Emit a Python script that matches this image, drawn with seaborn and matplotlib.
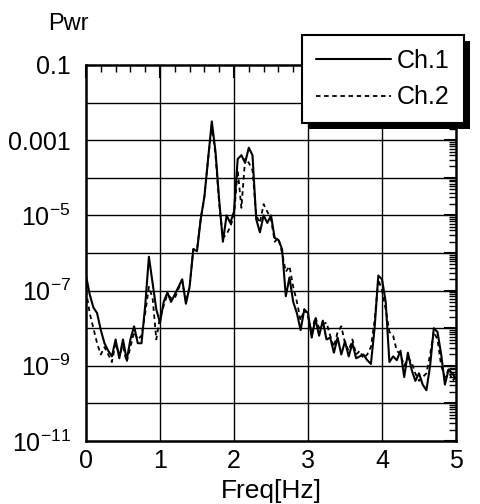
import numpy as np
import pandas as pd
import matplotlib
matplotlib.use("Agg")
import matplotlib.pyplot as plt
import matplotlib.ticker as mticker
from matplotlib.patches import Rectangle
from matplotlib.transforms import IdentityTransform
import seaborn as sns

# ---- data (log10 of power) ----
freq = [round(0.05 * i, 2) for i in range(101)]
ch1_log = [
    -6.6, -7.1, -7.45, -7.6, -8.05, -8.4, -8.6, -8.75, -8.3, -8.8,
    -8.3, -8.85, -8.3, -7.95, -8.4, -8.4, -7.4, -6.1, -6.8, -7.5,
    -7.85, -7.3, -7.05, -7.3, -7.1, -6.9, -6.7, -7.35, -6.9, -5.9,
    -5.95, -5.1, -4.5, -3.5, -2.5, -3.3, -4.6, -5.7, -5.0, -5.2,
    -4.9, -3.5, -3.4, -3.6, -3.2, -3.4, -5.1, -5.45, -5.0, -5.2,
    -5.0, -5.6, -5.65, -5.9, -7.15, -6.65, -7.3, -7.6, -8.05, -7.5,
    -7.6, -8.25, -7.75, -8.2, -7.8, -8.3, -8.25, -8.65, -8.25, -8.7,
    -8.35, -8.75, -8.4, -8.8, -8.75, -8.7, -8.85, -8.95, -8.0, -6.6,
    -6.7, -7.3, -8.9, -8.75, -8.85, -8.6, -9.3, -8.65, -9.1, -9.4,
    -9.2, -9.5, -9.65, -9.0, -8.0, -8.1, -8.7, -9.5, -9.1, -9.2,
    -9.35,
]
ch2_log = [
    -7.0, -7.6, -8.0, -8.4, -8.7, -8.5, -8.7, -8.9, -8.4, -8.7,
    -8.5, -8.9, -8.5, -8.1, -8.3, -8.2, -7.6, -6.9, -7.2, -8.3,
    -7.7, -7.4, -7.1, -7.2, -7.2, -6.95, -6.75, -7.3, -6.9, -5.9,
    -5.9, -5.1, -4.5, -3.5, -2.6, -3.4, -4.7, -5.6, -5.5, -5.3,
    -5.0, -3.8, -4.8, -3.5, -3.6, -3.8, -5.0, -5.2, -4.7, -4.9,
    -5.1, -5.7, -5.6, -6.0, -6.5, -6.35, -6.9, -7.3, -7.8, -7.5,
    -7.7, -8.1, -7.7, -8.0, -7.9, -7.85, -8.2, -8.5, -8.1, -7.95,
    -8.4, -8.6, -8.3, -8.7, -8.6, -8.8, -8.7, -8.5, -7.8, -6.7,
    -7.0, -7.5, -8.1, -8.2, -8.6, -8.7, -9.0, -8.8, -8.9, -9.2,
    -9.4, -9.3, -9.2, -8.7, -8.1, -8.3, -9.0, -9.3, -9.1, -9.4,
    -9.3,
]
series_names = ["Ch.1", "Ch.2"]
y_tick_vals = [1e-1, 1e-3, 1e-5, 1e-7, 1e-9, 1e-11]
y_tick_labels = ["0.1", "0.001", "$10^{-5}$", "$10^{-7}$", "$10^{-9}$", "$10^{-11}$"]
x_tick_vals = [0, 1, 2, 3, 4, 5]

df = pd.DataFrame({
    "freq": freq + freq,
    "pwr": list(10 ** np.array(ch1_log)) + list(10 ** np.array(ch2_log)),
    "ch": [series_names[0]] * len(freq) + [series_names[1]] * len(freq),
})

sns.set_style("white")
plt.rcParams["font.family"] = ["Liberation Sans", "DejaVu Sans"]
plt.rcParams["mathtext.default"] = "regular"
plt.rcParams["text.color"] = "black"
plt.rcParams["axes.labelcolor"] = "black"

fig = plt.figure(figsize=(4.81, 5.04), dpi=100)
ax = fig.add_axes([86 / 481, 1 - 441 / 504, 370 / 481, 376 / 504])

sns.lineplot(data=df[df.ch == "Ch.1"], x="freq", y="pwr", ax=ax, color="black",
             linewidth=1.5, label="Ch.1", legend=False)
sns.lineplot(data=df[df.ch == "Ch.2"], x="freq", y="pwr", ax=ax, color="black",
             linewidth=1.3, linestyle=(0, (2.5, 2)), label="Ch.2", legend=False)

ax.set_yscale("log")
ax.set_xlim(0, 5)
ax.set_ylim(1e-11, 1e-1)

# grid at every decade and every Hz
for e in range(-10, -1):
    ax.axhline(10.0 ** e, color="black", lw=1.0, zorder=0.5)
for xv in x_tick_vals[1:-1]:
    ax.axvline(xv, color="black", lw=1.0, zorder=0.5)


def fmt(v, p):
    for t, lab in zip(y_tick_vals, y_tick_labels):
        if abs(v - t) / t < 1e-6:
            return lab
    return ""


ax.yaxis.set_major_locator(mticker.FixedLocator([10.0 ** e for e in range(-11, 0)]))
ax.yaxis.set_major_formatter(mticker.FuncFormatter(fmt))
ax.yaxis.set_minor_locator(mticker.LogLocator(base=10, subs=np.arange(2, 10), numticks=30))
ax.yaxis.set_minor_formatter(mticker.NullFormatter())
ax.xaxis.set_major_locator(mticker.FixedLocator(x_tick_vals))
ax.xaxis.set_minor_locator(mticker.MultipleLocator(0.2))

ax.tick_params(which="both", direction="in", top=True, right=True, colors="black")
ax.tick_params(which="major", length=9, width=1.5, labelsize=18)
ax.tick_params(axis="y", which="major", pad=11)
ax.tick_params(axis="x", which="major", pad=6)
ax.tick_params(which="minor", length=5, width=1.0)
for s in ax.spines.values():
    s.set_color("black")
    s.set_linewidth(1.8)

ax.set_xlabel("Freq[Hz]", fontsize=19, labelpad=4)
ax.set_ylabel("")
fig.text(48 / 481, 1 - 24 / 504, "Pwr", fontsize=17, ha="left", va="center")

leg = fig.legend(handles=ax.get_lines()[:2], labels=series_names,
                 loc="upper left", bbox_to_anchor=(302 / 481, 1 - 35 / 504),
                 borderaxespad=0, fancybox=False, frameon=True, fontsize=18,
                 handlelength=3.0, handletextpad=0.25, labelspacing=0.5,
                 borderpad=0.55, edgecolor="black", framealpha=1)
leg.get_frame().set_linewidth(1.5)
leg.set_zorder(10)

fig.canvas.draw()
bb = leg.get_window_extent()
shadow = Rectangle((bb.x0 + 6, bb.y0 - 6), bb.width, bb.height,
                   transform=IdentityTransform(), facecolor="black",
                   edgecolor="none", zorder=9)
fig.add_artist(shadow)

fig.savefig("out.png", dpi=100)
